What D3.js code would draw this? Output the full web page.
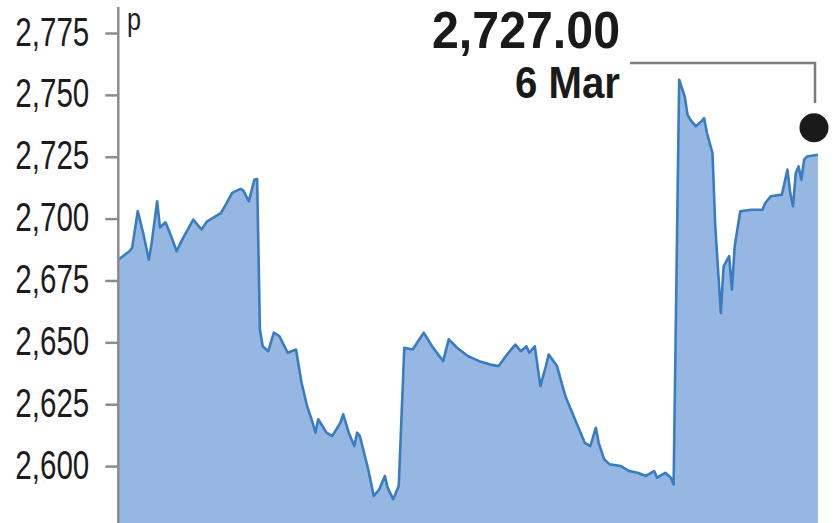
<!DOCTYPE html>
<html>
<head>
<meta charset="utf-8">
<script src="https://cdn.jsdelivr.net/npm/d3@7"></script>
<style>
  html, body { margin: 0; padding: 0; background: #ffffff; }
  svg { display: block; }
</style>
</head>
<body>
<svg id="chart" width="839" height="523"></svg>
<script>
// ---- data (trading-day index, price in pence) ----
const days = [0,4,5,7,9,11,12,14,15,17,19,21,23,27,29,30,32,35,37,39,41,44,45,47,49,50,
  51,52,54,56,58,61,64,66,68,70,71,72,75,77,80,81,83,85,86,87,90,92,94,96,97,99,101,
  103,106,110,113,117,119,122,126,130,134,137,140,143,145,147,148,150,152,154,155,158,
  161,163,166,168,170,172,173,175,177,181,184,187,190,193,194,197,199,200,
  202,204,205,206,208,210,211,212,214,215,217,218,220,221,222,224,228,232,233,235,239,
  241,242,243,244,245,246,247,248,252];
const prices = [2683.4,2686.8,2688.2,2703,2694,2683.4,2690,2707,2696.4,2698.5,2693,2686.8,2691.5,2699.6,2696.9,2695.6,2698.9,2700.9,2702.3,2706.3,2710.4,2712,2711.4,2707,2715.7,2716,
  2655.2,2648.4,2646.4,2653.9,2652.5,2645.8,2647.1,2633.7,2624.2,2617.5,2613.5,2618.9,2613.5,2612.1,2617.5,2620.9,2613.5,2608.1,2613.5,2612.1,2598.7,2587.9,2590.6,2596,2591.3,2586.6,2592,
  2647.8,2647.1,2653.9,2648.4,2642.4,2651.2,2647.8,2644.4,2642.4,2641,2640.4,2645.1,2649.1,2646.4,2648.4,2645.8,2648.4,2632.3,2640.4,2645.1,2640.4,
  2628.3,2622.9,2614.8,2609.4,2608.1,2615.5,2609.4,2602.7,2600.7,2600,2598,2597.3,2596,2598,2595.3,2597.3,2595.3,2592.6,
  2756.1,2749.4,2742,2740,2737.3,2739.3,2740.6,2734.6,2726.5,2696.9,2661.9,2680.7,2684.8,2671.3,2688.8,2703,2703.6,2703.6,2706.3,2709,2709.7,
  2719.8,2710.4,2705,2718.4,2721.1,2715.7,2723.8,2725.1,2725.8];
const yTicks = [2600, 2625, 2650, 2675, 2700, 2725, 2750, 2775];
const unitLabel = "p";
const lastValueLabel = "2,727.00";
const lastDateLabel = "6 Mar";

const data = days.map((d, i) => ({ day: d, price: prices[i] }));

// ---- layout ----
const W = 839, H = 523;
const svg = d3.select("#chart");

const x = d3.scaleLinear().domain([0, 252]).range([118.3, 818]);
const y = d3.scaleLinear().domain([2577, 2775]).range([H, 33]);

// area fill
const area = d3.area()
  .x(d => x(d.day))
  .y0(H)
  .y1(d => y(d.price));
svg.append("path")
  .datum(data)
  .attr("d", area)
  .attr("fill", "#96b7e2");

// line
const line = d3.line()
  .x(d => x(d.day))
  .y(d => y(d.price));
svg.append("path")
  .datum(data)
  .attr("d", line)
  .attr("fill", "none")
  .attr("stroke", "#3a7cc0")
  .attr("stroke-width", 2.6)
  .attr("stroke-linejoin", "round");

// y axis
const axisG = svg.append("g")
  .attr("transform", `translate(${x.range()[0]},0)`)
  .call(d3.axisLeft(y).tickValues(yTicks).tickSize(13).tickPadding(16).tickFormat(d3.format(",")));
axisG.select(".domain").remove();
axisG.selectAll(".tick line").attr("stroke", "#8c8c8c").attr("stroke-width", 2.5);
axisG.selectAll(".tick text")
  .attr("fill", "#1c1c1c")
  .style("font-family", "'Liberation Sans', Arial, sans-serif")
  .style("font-size", "40px")
  .attr("dy", "0.3em")
  .attr("textLength", 74)
  .attr("lengthAdjust", "spacingAndGlyphs");

// vertical axis line
svg.append("line")
  .attr("x1", x.range()[0]).attr("x2", x.range()[0])
  .attr("y1", 7).attr("y2", H)
  .attr("stroke", "#8c8c8c").attr("stroke-width", 2.5);

// unit label
svg.append("text")
  .attr("x", 127).attr("y", 30)
  .text(unitLabel)
  .attr("fill", "#1c1c1c")
  .style("font-family", "'Liberation Sans', Arial, sans-serif")
  .style("font-size", "32px")
  .attr("textLength", 14)
  .attr("lengthAdjust", "spacingAndGlyphs");

// annotation
const last = data[data.length - 1];
const dotX = x(last.day) - 4, dotY = y(last.price) - 27;
svg.append("polyline")
  .attr("points", `630,63 ${dotX + 1},63 ${dotX + 1},103`)
  .attr("fill", "none")
  .attr("stroke", "#7a7a7a")
  .attr("stroke-width", 2.5);
svg.append("circle")
  .attr("cx", dotX).attr("cy", dotY).attr("r", 14.5)
  .attr("fill", "#1a1a1a");

svg.append("text")
  .attr("x", 620).attr("y", 48)
  .attr("text-anchor", "end")
  .text(lastValueLabel)
  .attr("fill", "#1a1a1a")
  .style("font-family", "'Liberation Sans', Arial, sans-serif")
  .style("font-weight", "bold")
  .style("font-size", "52px")
  .attr("textLength", 188)
  .attr("lengthAdjust", "spacingAndGlyphs");

svg.append("text")
  .attr("x", 620).attr("y", 98)
  .attr("text-anchor", "end")
  .text(lastDateLabel)
  .attr("fill", "#1a1a1a")
  .style("font-family", "'Liberation Sans', Arial, sans-serif")
  .style("font-weight", "bold")
  .style("font-size", "44px")
  .attr("textLength", 105)
  .attr("lengthAdjust", "spacingAndGlyphs");
</script>
</body>
</html>
